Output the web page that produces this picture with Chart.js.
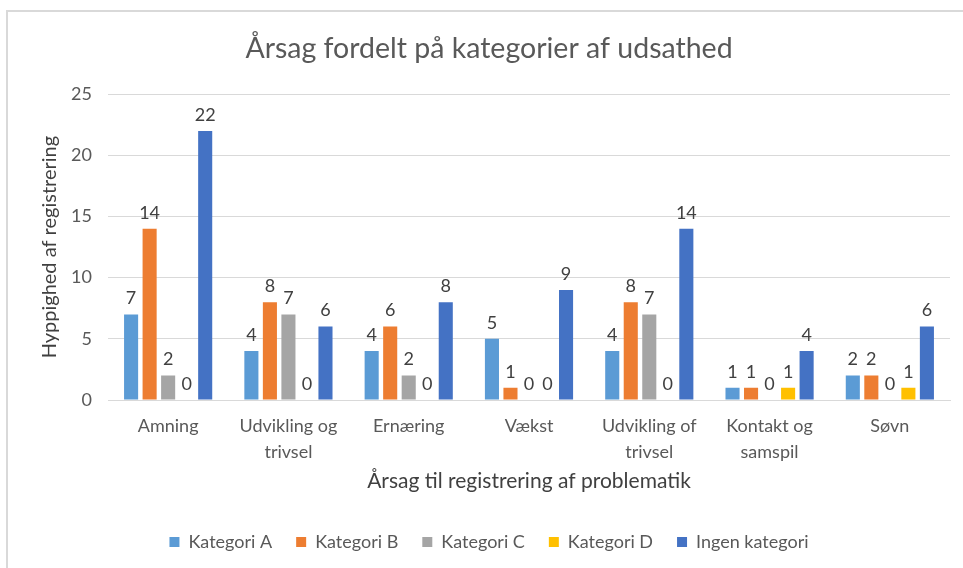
<!DOCTYPE html>
<html>
<head>
<meta charset="utf-8">
<script src="https://cdn.jsdelivr.net/npm/chart.js@4.4.0/dist/chart.umd.min.js"></script>
<style>
  html, body { margin: 0; padding: 0; background: #fff; overflow: hidden; }
  #ramme {
    position: absolute; left: 6px; top: 10px; width: 970px; height: 570px;
    border-top: 2px solid #d9d9d9; border-left: 2px solid #d9d9d9;
  }
  #wrapper { position: absolute; left: 0; top: 0; width: 978px; height: 568px; }
</style>
</head>
<body>
<div id="ramme"></div>
<div id="wrapper"><canvas id="diagram"></canvas></div>
<script>
// Data
const kategorier = [
  "Amning",
  ["Udvikling og", "trivsel"],
  "Ernæring",
  "Vækst",
  ["Udvikling of", "trivsel"],
  ["Kontakt og", "samspil"],
  "Søvn"
];
const kategoriA = [7, 4, 4, 5, 4, 1, 2];
const kategoriB = [14, 8, 6, 1, 8, 1, 2];
const kategoriC = [2, 7, 2, 0, 7, 0, 0];
const kategoriD = [0, 0, 0, 0, 0, 1, 1];
const ingenKategori = [22, 6, 8, 9, 14, 4, 6];
const yTicks = [0, 5, 10, 15, 20, 25];

const skrift = "Lato, 'Open Sans', sans-serif";

// Simpelt plugin til værdier over søjlerne
const vaerdiLabels = {
  id: "vaerdiLabels",
  afterDatasetsDraw(chart) {
    const ctx = chart.ctx;
    ctx.save();
    ctx.font = "18px " + skrift;
    ctx.fillStyle = "#404040";
    ctx.textAlign = "center";
    ctx.textBaseline = "bottom";
    chart.data.datasets.forEach((ds, i) => {
      const meta = chart.getDatasetMeta(i);
      meta.data.forEach((bar, j) => {
        ctx.fillText(String(ds.data[j]), bar.x, bar.y - 7);
      });
    });
    ctx.restore();
  }
};

const canvas = document.getElementById("diagram").getContext("2d");
const diagram = new Chart(canvas, {
  type: "bar",
  data: {
    labels: kategorier,
    datasets: [
      { label: "Kategori A", data: kategoriA, backgroundColor: "#5B9BD5" },
      { label: "Kategori B", data: kategoriB, backgroundColor: "#ED7D31" },
      { label: "Kategori C", data: kategoriC, backgroundColor: "#A5A5A5" },
      { label: "Kategori D", data: kategoriD, backgroundColor: "#FFC000" },
      { label: "Ingen kategori", data: ingenKategori, backgroundColor: "#4472C4" },
    ],
  },
  options: {
    responsive: true,
    maintainAspectRatio: false,
    animation: false,
    datasets: {
      bar: { categoryPercentage: 0.77, barPercentage: 0.76 },
    },
    layout: {
      padding: { top: 32, right: 0, left: 0, bottom: 7 },
    },
    plugins: {
      title: {
        display: true,
        text: "Årsag fordelt på kategorier af udsathed",
        color: "#595959",
        font: { family: skrift, size: 28.5, weight: "normal" },
        padding: { top: 0, bottom: 28 },
      },
      legend: {
        position: "bottom",
        labels: {
          color: "#595959",
          font: { family: skrift, size: 18 },
          boxWidth: 10,
          boxHeight: 10,
          padding: 24,
        },
      },
      tooltip: { enabled: false },
    },
    scales: {
      x: {
        afterFit(scale) {
          scale.height = 109;
        },
        grid: { display: false, drawTicks: false },
        border: { color: "#d9d9d9", width: 1 },
        ticks: {
          color: "#595959",
          font: { family: skrift, size: 18, lineHeight: 1.4 },
          padding: 14,
          maxRotation: 0,
        },
        title: {
          display: true,
          text: "Årsag til registrering af problematik",
          color: "#404040",
          font: { family: skrift, size: 21 },
          padding: { top: 6, bottom: 15 },
        },
      },
      y: {
        min: 0,
        max: 25,
        afterBuildTicks(scale) {
          scale.ticks = yTicks.map((v) => ({ value: v }));
        },
        afterFit(scale) {
          scale.width = 108;
        },
        grid: { color: "#d9d9d9", drawTicks: false },
        border: { display: false },
        ticks: {
          color: "#595959",
          font: { family: skrift, size: 18 },
          padding: 16,
        },
        title: {
          display: true,
          text: "Hyppighed af registrering",
          color: "#404040",
          font: { family: skrift, size: 20 },
          padding: { top: 38, bottom: 4 },
        },
      },
      // tom akse i højre side, så titel og forklaring centreres som i originalen
      hoejre: {
        type: "linear",
        position: "right",
        afterFit(scale) {
          scale.width = 28;
        },
        grid: { display: false, drawTicks: false },
        border: { display: false },
        ticks: { display: false },
      },
    },
  },
  plugins: [vaerdiLabels],
});
</script>
</body>
</html>
